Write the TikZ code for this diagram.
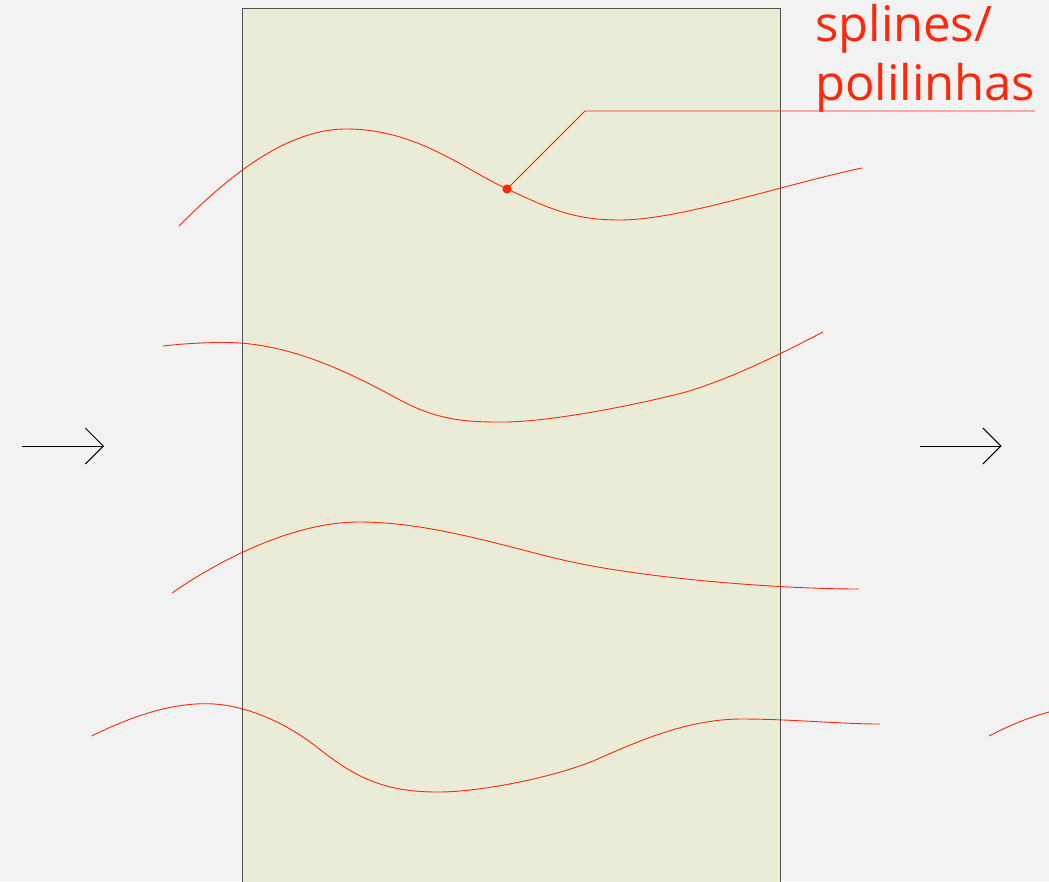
\documentclass[tikz,border=0pt]{standalone}
\usepackage{fontspec}
\setmainfont{Open Sans}
\usetikzlibrary{arrows.meta}
\definecolor{bg}{RGB}{242,242,242}
\definecolor{zone}{RGB}{235,236,215}
\definecolor{rd}{RGB}{255,40,10}
\definecolor{edge}{RGB}{80,80,80}
\tikzset{
  spline/.style={draw=rd, line width=0.9pt},
  flowarrow/.style={draw=black, line width=0.9pt, -{Straight Barb[length=18pt,width=36pt,line width=0.9pt]}},
  leader/.style={draw=rd, line width=0.9pt},
  lbl/.style={text=rd, font=\fontsize{49}{58}\selectfont, anchor=base west, inner sep=0pt}
}
\begin{document}
\begin{tikzpicture}[x=1pt,y=-1pt]
\fill[bg] (0,0) rectangle (1049,881);
\useasboundingbox (0,0) rectangle (1049,881);
% zone
\filldraw[fill=zone, draw=edge, line width=0.9pt] (242.5,881.5) -- (242.5,8) -- (780.5,8) -- (780.5,881.5);
% splines
\draw[spline] (179,226) .. controls (219,186) and (281,129) .. (346,129)
  .. controls (416,129) and (462,168) .. (507,189)
  .. controls (552,210) and (575,220) .. (620,220)
  .. controls (680,220) and (782,185) .. (862,168);
\draw[spline] (163,346) .. controls (185,343.5) and (205,342.5) .. (225,342.5)
  .. controls (290,342.5) and (350,373) .. (400,400)
  .. controls (440,421.6) and (470,422) .. (503,422)
  .. controls (550,422) and (636,405) .. (686,392)
  .. controls (736,377) and (790,349) .. (823,332);
\draw[spline] (172,593) .. controls (212,565) and (289,522) .. (359,522)
  .. controls (430,522) and (503,546) .. (563,560)
  .. controls (643,578.5) and (779,589) .. (859,589);
\draw[spline] (91.5,736) .. controls (126.5,719) and (165.5,703.7) .. (205.5,703.7)
  .. controls (245.5,703.7) and (288,724) .. (318,748)
  .. controls (358,780) and (388,792) .. (438,792)
  .. controls (483,792) and (560,776) .. (600,758)
  .. controls (645,738) and (691.6,719) .. (741.6,719)
  .. controls (790,719) and (840,724) .. (880,724);
\draw[spline] (989,736) .. controls (1010,725) and (1030,717) .. (1049,712);
% label
\node[lbl] (l1) at (815,41.7) {splines/};
\node[lbl] (l2) at (815,100) {polilinhas};
\coordinate (dot) at (507,189);
\coordinate (bend) at (585,111);
\coordinate (lend) at (1035,111);
\fill[rd] (dot) circle (4.6);
\draw[leader] (dot) -- (bend) -- (lend);
% arrows
\coordinate (a1s) at (22,446);
\coordinate (a1e) at (104,446);
\coordinate (a2s) at (920,446);
\coordinate (a2e) at (1001.5,446);
\draw[flowarrow] (a1s) -- (a1e);
\draw[flowarrow] (a2s) -- (a2e);
\end{tikzpicture}
\end{document}
